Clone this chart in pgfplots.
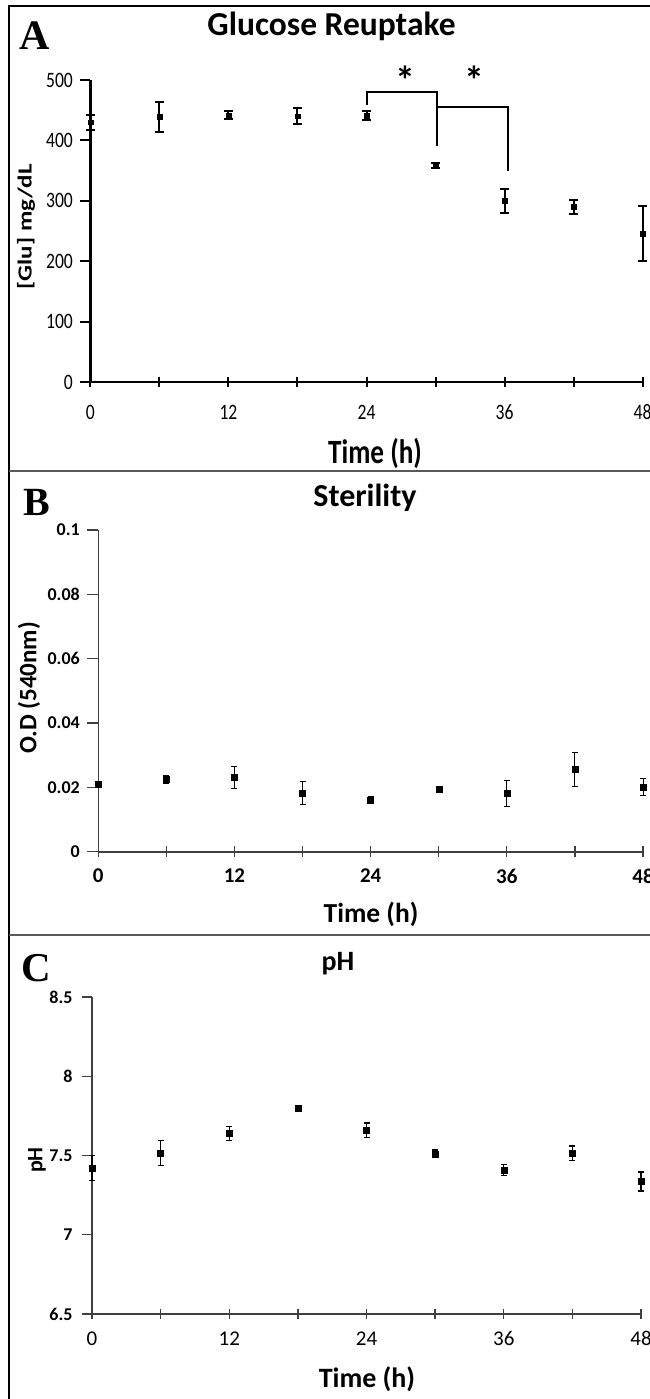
\documentclass[border=0pt]{standalone}
\usepackage{fontspec}
\setmainfont{Carlito}
\newfontfamily\condfont{Carlito}[FakeStretch=0.8]
\newfontfamily\widefont{Carlito}[FakeStretch=1.25]
\newfontfamily\panelfont{Liberation Serif}
\usepackage{pgfplots}
\pgfplotsset{compat=1.18}

\definecolor{axgray}{HTML}{404040}

\pgfplotsset{
  panel/.style={
    scale only axis, axis lines=left, axis line style={-},
    xmin=0, xmax=48, xtick={0,6,...,48},
    xticklabels={0,,12,,24,,36,,48},
    xtick align=center, ytick align=outside,
    /pgf/number format/assume math mode=true,
    clip=false,
  },
  pts/.style={only marks, black, mark=square*, mark size=#1,
    mark options={solid}},
}

\begin{document}
\begin{tikzpicture}[x=1pt,y=1pt]
\useasboundingbox (0,0) rectangle (650,-1399);

% frame and panel separators
\draw[line width=1.5pt] (9,-1399) -- (9,-6) -- (650,-6);
\draw[line width=2.5pt, black!65] (9,-471) -- (650,-471);
\draw[line width=2.5pt, black!65] (9,-935) -- (650,-935);

% ---------- A: glucose ----------
\begin{axis}[panel,
  at={(90.4pt,-382.3pt)}, anchor=south west,
  width=552.2pt, height=302.3pt,
  ymin=0, ymax=500, ytick={0,100,...,500},
  axis line style={line width=2.3pt, black},
  tick style={line width=2pt, black},
  major tick length=10pt,
  tick label style={font=\condfont\fontsize{22}{22}\selectfont},
  xticklabel style={yshift=-14pt},
  yticklabel style={xshift=-4pt},
]
\addplot[pts=2.3pt,
  error bars/.cd, y dir=both, y explicit,
  error bar style={line width=2pt, black},
  error mark options={rotate=90, mark size=4.5pt, line width=2pt, black}]
  table[x=t, y=v, y error=e] {
t  v    e
0  430  12
6  439  25
12 442  7
18 440  13
24 441  7
30 359  4.5
36 300  20
42 290  12
48 246  45
};
% significance brackets
\draw[line width=2pt] (axis cs:24,459) |- (axis cs:30.15,480) -- (axis cs:30.15,391);
\draw[line width=2pt] (axis cs:30.15,456) -| (axis cs:36.3,350);
\node[font=\bfseries\fontsize{40}{40}\selectfont] at (axis cs:27.4,500) {*};
\node[font=\bfseries\fontsize{40}{40}\selectfont] at (axis cs:33.4,500) {*};
\end{axis}

\node[anchor=base west, inner sep=0pt] at (19,-50)
  {\panelfont\bfseries\fontsize{42}{42}\selectfont A};
\node[anchor=base, inner sep=0pt] at (331.5,-36)
  {\bfseries\fontsize{33.5}{33.5}\selectfont Glucose Reuptake};
\node[rotate=90, inner sep=0pt] at (26,-226.7)
  {\widefont\bfseries\fontsize{20}{20}\selectfont [Glu] mg/dL};
\node[anchor=base, inner sep=0pt] at (375,-463)
  {\condfont\bfseries\fontsize{34}{34}\selectfont Time (h)};

% ---------- B: sterility ----------
\begin{axis}[panel,
  at={(98.3pt,-851.7pt)}, anchor=south west,
  width=544.7pt, height=321.7pt,
  ymin=0, ymax=0.1, ytick={0,0.02,0.04,0.06,0.08,0.1},
  yticklabels={0,0.02,0.04,0.06,0.08,0.1},
  x axis line style={line width=2pt, axgray},
  y axis line style={line width=1.2pt, axgray},
  tick style={line width=1.3pt, axgray},
  major tick length=11pt,
  yticklabel style={font=\bfseries\fontsize{18}{18}\selectfont, xshift=-4pt},
  xticklabel style={font=\bfseries\fontsize{21}{21}\selectfont, yshift=-8pt},
]
\addplot[pts=3pt,
  error bars/.cd, y dir=both, y explicit,
  error bar style={line width=0.9pt, black},
  error mark options={rotate=90, mark size=3pt, line width=0.9pt, black}]
  table[x=t, y=v, y error=e] {
t  v       e
0  0.0211  0.0005
6  0.0225  0.0012
12 0.0231  0.0033
18 0.0182  0.0035
24 0.0161  0.0010
30 0.0194  0.0007
36 0.0182  0.0041
42 0.0256  0.0052
48 0.0202  0.0026
};
\end{axis}

\node[anchor=base west, inner sep=0pt] at (23,-515)
  {\panelfont\bfseries\fontsize{40}{40}\selectfont B};
\node[anchor=base, inner sep=0pt] at (365,-506.7)
  {\bfseries\fontsize{32}{32}\selectfont Sterility};
\node[rotate=90, inner sep=0pt] at (29,-688)
  {\bfseries\fontsize{25}{25}\selectfont O.D (540nm)};
\node[anchor=base, inner sep=0pt] at (371,-922.7)
  {\bfseries\fontsize{27.5}{27.5}\selectfont Time (h)};

% ---------- C: pH ----------
\begin{axis}[panel,
  at={(92pt,-1314pt)}, anchor=south west,
  width=549pt, height=317pt,
  ymin=6.5, ymax=8.5, ytick={6.5,7,7.5,8,8.5},
  yticklabels={6.5,7,7.5,8,8.5},
  x axis line style={line width=2pt, axgray},
  y axis line style={line width=1.4pt, axgray},
  tick style={line width=1.3pt, axgray},
  major tick length=10pt,
  yticklabel style={font=\bfseries\fontsize{18}{18}\selectfont, xshift=-6pt},
  xticklabel style={font=\fontsize{21}{21}\selectfont, yshift=-9pt},
]
\addplot[pts=3pt,
  error bars/.cd, y dir=both, y explicit,
  error bar style={line width=1.1pt, black},
  error mark options={rotate=90, mark size=3pt, line width=1.1pt, black}]
  table[x=t, y=v, y error=e] {
t  v      e
0  7.42   0.08
6  7.515  0.08
12 7.64   0.045
18 7.80   0.01
24 7.66   0.045
30 7.51   0.025
36 7.41   0.034
42 7.515  0.045
48 7.336  0.06
};
\end{axis}

\node[anchor=base west, inner sep=0pt] at (21,-981)
  {\panelfont\bfseries\fontsize{41}{41}\selectfont C};
\node[anchor=base, inner sep=0pt] at (338,-970)
  {\bfseries\fontsize{28}{28}\selectfont pH};
\node[rotate=90, inner sep=0pt] at (37,-1160)
  {\bfseries\fontsize{22}{22}\selectfont pH};
\node[anchor=base, inner sep=0pt] at (367,-1387)
  {\bfseries\fontsize{28}{28}\selectfont Time (h)};

\end{tikzpicture}
\end{document}
